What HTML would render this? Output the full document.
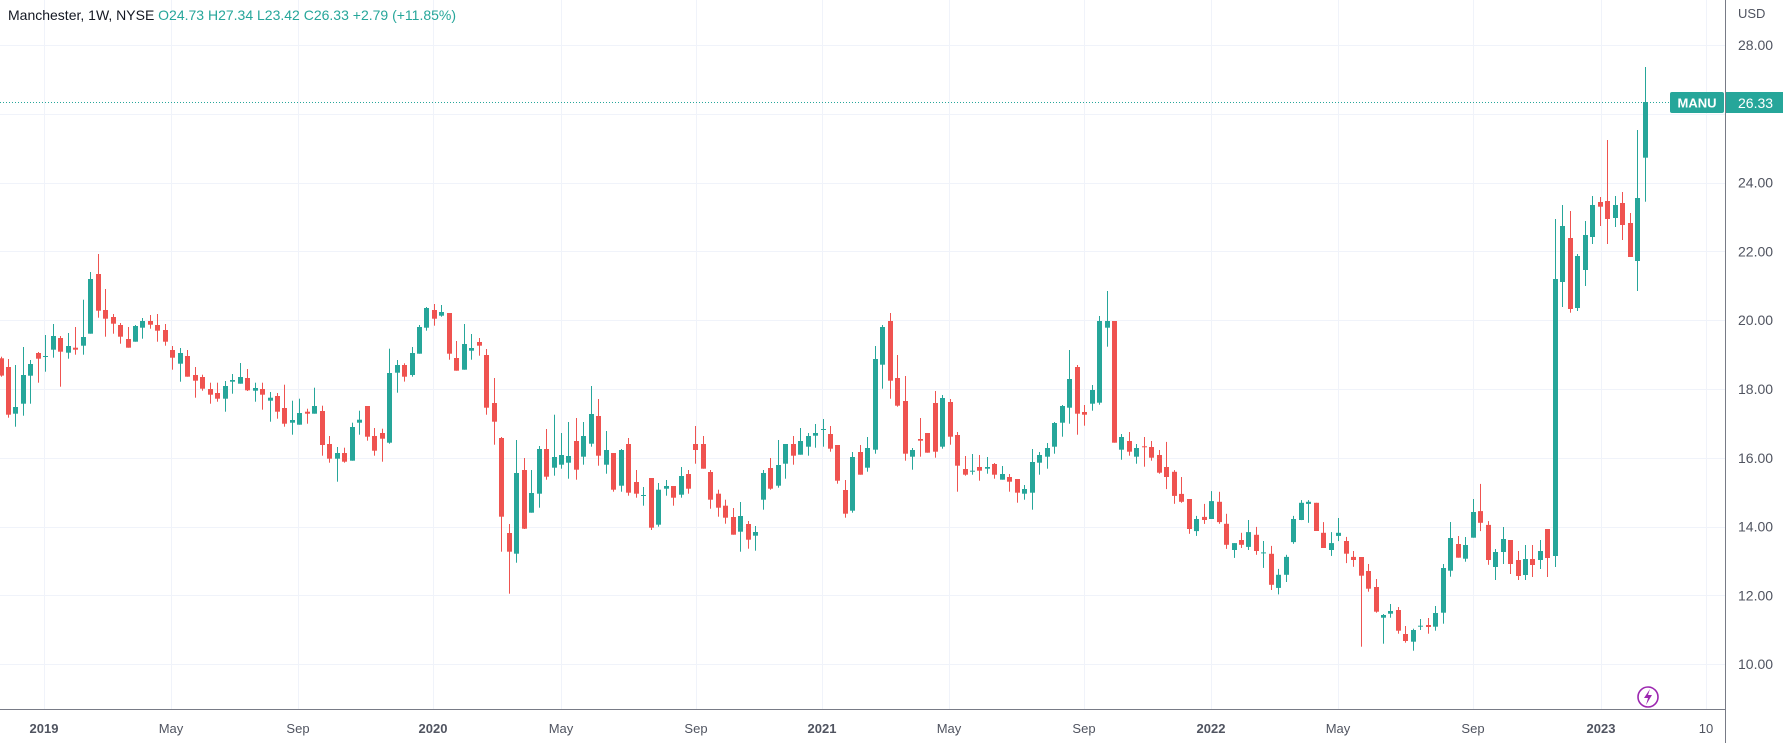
<!DOCTYPE html>
<html><head><meta charset="utf-8"><style>
html,body{margin:0;padding:0;background:#fff;}
body{width:1785px;height:743px;overflow:hidden;position:relative;font-family:"Liberation Sans",Arial,sans-serif;}
svg{position:absolute;left:0;top:0;}
</style></head><body>
<svg id="c" width="1785" height="743" xmlns="http://www.w3.org/2000/svg" font-family="Liberation Sans, Arial, sans-serif">
<g id="grid" stroke="#f0f3fa" stroke-width="1"></g>
<g id="candles"></g>
<line x1="0" y1="102.5" x2="1725" y2="102.5" stroke="#26a69a" stroke-width="1" stroke-dasharray="1,2"/>
<line x1="1725.5" y1="0" x2="1725.5" y2="743" stroke="#787b86" stroke-width="1"/>
<line x1="0" y1="709.5" x2="1725" y2="709.5" stroke="#787b86" stroke-width="1"/>
<g id="plabels" font-size="14" fill="#505460"></g>
<g id="tlabels" font-size="13" fill="#505460" text-anchor="middle"></g>
<text x="1738" y="18" font-size="13" fill="#505460">USD</text>
<rect x="1670" y="92" width="54" height="21" rx="2" fill="#26a69a"/>
<text x="1697" y="107.5" font-size="13" font-weight="bold" fill="#fff" text-anchor="middle">MANU</text>
<rect x="1726" y="92" width="57" height="21" fill="#26a69a"/>
<text x="1738" y="108" font-size="14" fill="#fff">26.33</text>
<circle cx="1648" cy="697" r="10" fill="none" stroke="#9c27b0" stroke-width="1.6"/>
<path d="M1650 689 L1644 698 L1648 698 L1646 705 L1652 695 L1648 695 Z" fill="#9c27b0"/>
<text x="8" y="20" font-size="14" fill="#131722">Manchester, 1W, NYSE <tspan fill="#26a69a">O24.73 H27.34 L23.42 C26.33 +2.79 (+11.85%)</tspan></text>
</svg>
<script>
var NS="http://www.w3.org/2000/svg";
function el(p,t,a,txt){var e=document.createElementNS(NS,t);for(var k in a)e.setAttribute(k,a[k]);if(txt!==undefined)e.textContent=txt;p.appendChild(e);return e;}
var grid=document.getElementById('grid');
function py(p){return 45+(28-p)*34.4;}
for(var p=10;p<=28;p+=2){var y=Math.round(py(p))+0.5;el(grid,'line',{x1:0,y1:y,x2:1725,y2:y});
 if(p!=26)el(document.getElementById('plabels'),'text',{x:1738,y:py(p)+5},p.toFixed(2));}
var vx=[44,171,298,433,561,696,822,949,1084,1211,1338,1473,1601,1706];
var tl=["2019","May","Sep","2020","May","Sep","2021","May","Sep","2022","May","Sep","2023","10"];
vx.forEach(function(x,i){el(grid,'line',{x1:x+0.5,y1:0,x2:x+0.5,y2:709});
 var a={x:x,y:733};if(/^20/.test(tl[i]))a['font-weight']='bold';el(document.getElementById('tlabels'),'text',a,tl[i]);});
var segs=[
[210,3,`r 445 497 440 500;r 471 614 447 623;g 591 611 465 650;g 495 581 411 617;g 462 497 450 581;r 429 446 426 518;g 438 440 375 485;g 378 419 342 443;r 384 425 378 530;g 408 428 369 446;r 413 419 351 434;g 381 407 269 434;g 207 371 186 371;r 192 302 132 323;r 300 326 237 380;r 321 341 312 371;r 345 380 339 401;r 387 413 351 413;g 348 395 345 395;g 333 353 324 386;r 333 344 315 356;r 345 362 312 395;r 360 395 342 407;r 420 443 408 479;g 429 461 414 515;r 438 500 420 500;r 495 512 471 563;r 501 536 494 542;r 537 554 518 581;r 549 566 518 575;g 528 566 513 605;g 510 515 492 551;g 501 521 459 521;r 504 541 477 543;g 534 542 518 575;r 537 554 518 599;g 563 572 546 635;r 558 605 549 626;r 594 641 524 650;g 630 638 572 674;g 609 644 566 644;r 605 611 596 641;g 588 611 533 611;r 603 705 587 737;r 702 746 678 758;g 729 746 711 815;r 729 755 713 758;g 651 752 638 752;g 629 638 602 674;r 588 680 588 692;r 678 722 654 737;r 669 686 656 755;g 489 698 416 701;g 465 488 450 548`],
[250,3,`r 345 380 340 395;g 309 375 291 380;g 231 311 225 311;g 174 233 171 242;r 180 206 162 227;g 186 197 165 200;r 189 311 189 329;r 324 362 273 362;g 282 359 222 359;g 294 302 252 329;r 276 287 264 317;r 315 473 297 494;r 459 515 384 584`],
[0,1,`r 438 516.7 437 551.7;r 533 551.7 524 593.7;g 473 553.7 440 562.7;r 470 528.7 458 529`],
[250,3,`g 729 788 660 788;g 597 731 588 773;r 597 680 537 689;g 621 653 494 677;g 615 644 549 656;g 618 638 516 686;r 573 659 504 689;g 558 620 516 644;g 492 581 408 590;r 498 617 447 647;g 600 644 543 671;r 609 719 609 725;g 600 707 597 725;r 582 728 564 737;r 696 731 660 743;g 735 737 711 767;r 684 833 684 840;g 719 824 699 830;g 708 716 690 737;r 708 743 708 767;g 678 734 651 743;r 672 716 660 731;r 582 600 528 641;r 582 656 558 656;r 666 749 660 776;r 731 773 719 800;r 767 803 749 821`],
[0,1,`r 517 534.7 508 534.7;g 516 531.7 502 551.7;r 524 539.7 521 548.7;g 532 535.7 526 550.7`],
[250,3,`g 669 749 660 779;r 654 716 624 719;g 645 707 570 713;g 582 641 582 686;r 582 617 558 644;g 573 614 534 614;g 558 590 549 617;g 549 557 522 593;g 537 539 507 590;r 552 596 528 605;r 585 692 585 701;r 720 791 690 803;g 621 782 606 788;r 606 674 585 674;g 594 653 561 665;g 327 599 288 611;g 231 344 225 416;r 213 392 189 446;r 384 467 315 470;r 453 611 378 632;g 600 620 594 659;r 567 572 504 620;r 549 608 549 608;r 459 605 423 623;g 444 590 435 596;r 456 560 447 584;r 555 647 546 725;r 657 674 618 677;g 662 664 612 674;r 651 662 615 692;g 651 656 621 671;r 642 674 639 686;g 672 689 648 689;r 681 695 672 725;r 687 728 687 758;g 717 731 705 749;g 636 728 597 779;g 615 638 606 674;g 594 620 579 656;g 519 590 516 611;g 468 518 465 560;g 387 473 300 521;r 351 491 345 554;r 486 494 465 527;g 420 461 405 482;g 213 458 198 464;g 213 233 123 290;r 213 578 213 578;g 561 599 552 629;r 573 605 546 617;g 594 620 582 641;r 589 591 561 650;r 591 623 573 632;r 615 668 600 671`],
[50,2.904,`r 1211 1240 1138 1275;r 1225 1295 1220 1318;r 1289 1312 1240 1315;r 1304 1391 1304 1405;g 1362 1397 1353 1411;r 1356 1365 1318 1376;g 1310 1362 1281 1362;r 1312 1371 1283 1376;r 1376 1437 1347 1449;g 1432 1452 1432 1475;r 1423 1437 1402 1446;g 1400 1443 1365 1452;r 1408 1455 1385 1466;g 1459 1462 1426 1504;r 1463 1553 1440 1568;g 1524 1562 1507 1581;g 1472 1524 1466 1545;g 1362 1429 1353 1434;g 1315 1365 1307 1365;g 1312 1318 1307 1373;r 1315 1397 1315 1397;r 1402 1446 1371 1446;g 1432 1452 1400 1469;g 1402 1411 1359 1426;r 1426 1463 1414 1490;r 1472 1481 1455 1501`],
[480,3,`r 231 287 231 500;r 273 326 252 335;r 321 395 297 398;g 405 413 402 491;g 393 401 372 413;r 390 452 381 461;r 462 483 438 488;g 450 485 446 512;g 437 440 417 450;r 435 441 414 461;g 399 440 378 452;g 264 398 252 431;g 174 272 126 290;r 192 233 168 233;g 195 236 171 245;g 96 173 57 173`],
[50,2.904,`r 1339 1373 1260 1397;r 1379 1481 1368 1495`],
[160,3,`g 1176 1221 1167 1260;g 1137 1176 1101 1212;r 1140 1212 1140 1242;r 1200 1248 1173 1260;g 1197 1245 1155 1260;r 1197 1215 1155 1251;g 1173 1200 1140 1227;r 1107 1194 1107 1251;g 357 1188 177 1221;g 198 366 135 441;r 234 447 153 458;g 288 444 282 453;g 225 330 183 378;g 135 231 108 252;r 126 140 111 198;r 123 177 -60 252;g 135 174 108 201;r 129 195 96 240;r 189 291 159 291;g 114 303 -90 393`],
[0,1,`g 102 157.7 67 201.7`]
];
var cg=document.getElementById('candles');var i=0;
segs.forEach(function(s){var off=s[0],sc=s[1];s[2].split(';').forEach(function(r){
 var f=r.trim().split(/\s+/);var col=f[0]=='g'?'#26a69a':'#ef5350';
 var bt=off+(+f[1])/sc,bb=off+(+f[2])/sc,wt=off+(+f[3])/sc,wb=off+(+f[4])/sc;
 var cx=1+i*7.473;var xl=Math.round(cx-2.5);
 el(cg,'rect',{x:xl+2,y:wt.toFixed(1),width:1,height:Math.max(1,wb-wt).toFixed(1),fill:col});
 el(cg,'rect',{x:xl,y:bt.toFixed(1),width:5,height:Math.max(1,bb-bt).toFixed(1),fill:col});
 i++;});});
</script>
</body></html>
